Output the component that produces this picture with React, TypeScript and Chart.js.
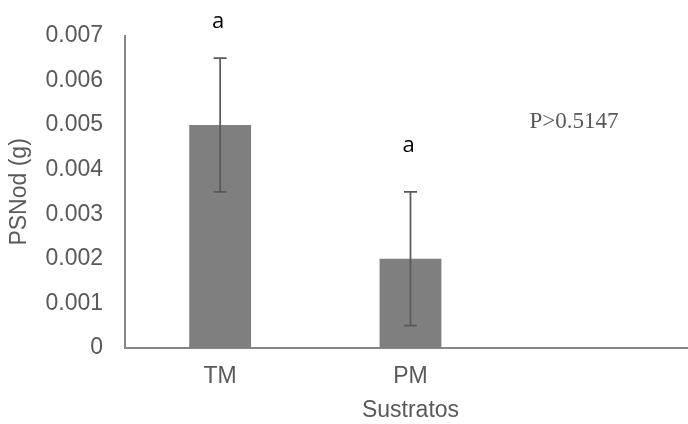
import React, { useEffect, useRef } from "react";
import { Chart, registerables } from "chart.js";

Chart.register(...registerables);

const categories = ["TM", "PM", ""];
const means = [0.005, 0.002, null];
const errors = [0.0015, 0.0015, null];
const letters = ["a", "a", ""];
const yTicks = [0, 0.001, 0.002, 0.003, 0.004, 0.005, 0.006, 0.007];
const pValueText = "P>0.5147";

const errorBarPlugin = {
  id: "errorBars",
  afterDatasetsDraw(chart: any) {
    const { ctx, scales } = chart;
    const x = scales.x;
    const y = scales.y;
    const letterOffsets = [36, 46];
    ctx.save();
    means.forEach((m, i) => {
      if (m == null) return;
      const e = errors[i] as number;
      const cx = x.getPixelForValue(i);
      const top = y.getPixelForValue(m + e);
      const bot = y.getPixelForValue(m - e);
      ctx.strokeStyle = "#5a5a5a";
      ctx.lineWidth = 1.75;
      ctx.beginPath();
      ctx.moveTo(cx, top);
      ctx.lineTo(cx, bot);
      ctx.moveTo(cx - 6.5, top);
      ctx.lineTo(cx + 6.5, top);
      ctx.moveTo(cx - 6.5, bot);
      ctx.lineTo(cx + 6.5, bot);
      ctx.stroke();
      ctx.fillStyle = "#000000";
      ctx.font = "22px 'Open Sans', sans-serif";
      ctx.textAlign = "center";
      ctx.textBaseline = "middle";
      ctx.fillText(letters[i], cx - 2, top - letterOffsets[i]);
    });
    const area = chart.chartArea;
    ctx.fillStyle = "#595959";
    ctx.font = "23px 'Liberation Serif', serif";
    ctx.textAlign = "center";
    ctx.textBaseline = "middle";
    ctx.fillText(pValueText, area.left + 449, area.top + 86);
    ctx.restore();
  },
};

const axisFont = { family: "'Liberation Sans', Arial, sans-serif", size: 23 };

export default function App() {
  const ref = useRef<HTMLCanvasElement>(null);
  useEffect(() => {
    document.body.style.margin = "0";
    document.body.style.overflow = "hidden";
    const chart = new Chart(ref.current as HTMLCanvasElement, {
      type: "bar",
      data: {
        labels: categories,
        datasets: [
          {
            data: means as any,
            backgroundColor: "#7f7f7f",
            borderWidth: 0,
            barPercentage: 0.325,
            categoryPercentage: 1,
          },
        ],
      },
      options: {
        animation: false,
        responsive: false,
        maintainAspectRatio: false,
        layout: { padding: { top: 34, right: 0, bottom: 0, left: 0 } },
        plugins: {
          legend: { display: false },
          tooltip: { enabled: false },
        },
        scales: {
          x: {
            grid: { display: false, drawTicks: false },
            border: { display: true, color: "#868686", width: 2 },
            ticks: {
              color: "#595959",
              font: axisFont,
              padding: 15,
            },
            title: {
              display: true,
              text: "Sustratos",
              color: "#595959",
              font: axisFont,
              padding: { top: 0, bottom: 0 },
            },
            afterFit(scale: any) {
              scale.height = 76;
            },
          },
          y: {
            min: 0,
            max: 0.007,
            grid: { display: false, drawTicks: false },
            border: { display: true, color: "#868686", width: 2 },
            afterBuildTicks(scale: any) {
              scale.ticks = yTicks.map((v) => ({ value: v }));
            },
            ticks: {
              color: "#595959",
              font: axisFont,
              padding: 22,
              callback: (v: any) => (Number(v) === 0 ? "0" : Number(v).toFixed(3)),
            },
            title: {
              display: true,
              text: "PSNod (g)",
              color: "#595959",
              font: axisFont,
              padding: { top: 6, bottom: 0 },
            },
            afterFit(scale: any) {
              scale.width = 125;
            },
          },
        },
      },
      plugins: [errorBarPlugin],
    });
    return () => chart.destroy();
  }, []);
  return (
    <div
      style={{
        position: "absolute",
        left: 0,
        top: 0,
        width: 688,
        height: 424,
        overflow: "hidden",
      }}
    >
      <canvas ref={ref} width={696} height={424} style={{ display: "block" }} />
    </div>
  );
}
